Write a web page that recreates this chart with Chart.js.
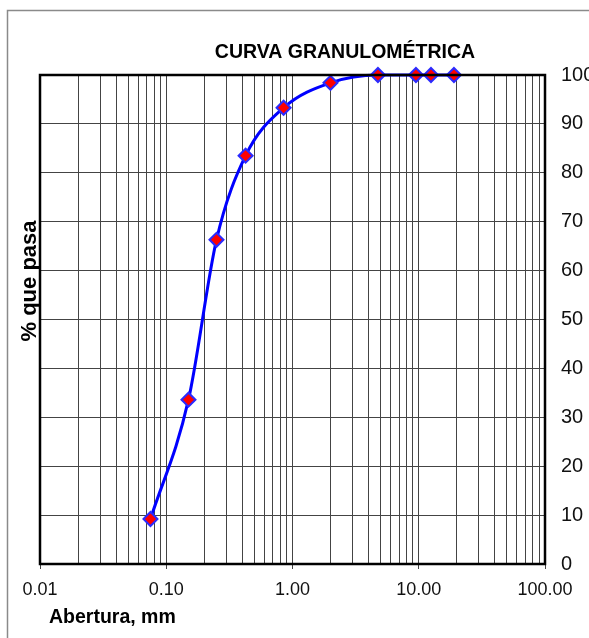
<!DOCTYPE html>
<html lang="es">
<head>
  <meta charset="UTF-8" />
  <title>Curva granulométrica</title>
  <script src="https://cdn.jsdelivr.net/npm/chart.js"></script>
  <style>
    html, body { margin: 0; padding: 0; background: #fff; overflow: hidden; }
    #wrap { position: relative; width: 589px; height: 638px; }
  </style>
</head>
<body>
  <div id="wrap"><canvas id="chart" width="589" height="638"></canvas></div>

  <script>
    // sieve openings (mm) and % passing
    const sieveSizes = [0.075, 0.15, 0.25, 0.425, 0.85, 2.0, 4.75, 9.5, 12.5, 19.0];
    const percentPassing = [9.2, 33.6, 66.3, 83.5, 93.3, 98.4, 100, 100, 100, 100];

    // log grid lines: 1..9 x each decade from 0.01 to 100
    const xGridValues = [];
    [0.01, 0.1, 1, 10].forEach(d => {
      for (let i = 1; i <= 9; i++) xGridValues.push(+(d * i).toPrecision(3));
    });
    xGridValues.push(100);
    const xLabelValues = [0.01, 0.1, 1, 10, 100];

    const chartTitle = 'CURVA GRANULOMÉTRICA';
    const xTitle = 'Abertura, mm';
    const yTitle = '% que pasa';

    const boldFont = '"Liberation Sans Narrow", "Liberation Sans", Arial, sans-serif';

    const isDecade = v => xLabelValues.some(d => Math.abs(d - v) / d < 1e-6);

    const decorations = {
      id: 'decorations',
      beforeDraw(chart) {
        const ctx = chart.ctx;
        ctx.save();
        ctx.strokeStyle = '#8a8a8a';
        ctx.lineWidth = 1.5;
        ctx.strokeRect(7.5, 10.5, 700, 700);
        ctx.restore();
      },
      afterDraw(chart) {
        const ctx = chart.ctx;
        const a = chart.chartArea;
        ctx.save();
        ctx.strokeStyle = '#000';
        ctx.lineWidth = 2.5;
        ctx.strokeRect(a.left, a.top, a.right - a.left, a.bottom - a.top);

        ctx.fillStyle = '#000';
        ctx.font = 'bold 19.5px ' + boldFont;
        ctx.textAlign = 'center';
        ctx.textBaseline = 'middle';
        ctx.fillText(chartTitle, 345, 53);

        ctx.textAlign = 'left';
        ctx.font = 'bold 19.5px ' + boldFont;
        ctx.fillText(xTitle, 49, 618);

        ctx.translate(30, 281);
        ctx.rotate(-Math.PI / 2);
        ctx.textAlign = 'center';
        ctx.font = 'bold 22px ' + boldFont;
        ctx.fillText(yTitle, 0, 0);
        ctx.restore();
      }
    };

    new Chart(document.getElementById('chart'), {
      type: 'line',
      data: {
        datasets: [{
          data: sieveSizes.map((x, i) => ({ x: x, y: percentPassing[i] })),
          borderColor: '#0000ff',
          borderWidth: 3,
          cubicInterpolationMode: 'monotone',
          pointStyle: 'rectRot',
          pointRadius: 7,
          pointBackgroundColor: '#ff0000',
          pointBorderColor: '#2a2aff',
          pointBorderWidth: 2,
          clip: false
        }]
      },
      plugins: [decorations],
      options: {
        responsive: false,
        animation: false,
        layout: { padding: { left: 40, top: 75, right: 0, bottom: 0 } },
        plugins: {
          legend: { display: false },
          tooltip: { enabled: false }
        },
        scales: {
          x: {
            type: 'logarithmic',
            min: 0.01,
            max: 100,
            afterBuildTicks: scale => {
              scale.ticks = xGridValues.map(v => ({ value: v }));
            },
            afterFit: scale => { scale.height = 74; },
            grid: {
              color: '#444',
              lineWidth: 1,
              tickLength: 5,
              tickColor: ctx => isDecade(ctx.tick.value) ? '#444' : 'rgba(0,0,0,0)'
            },
            border: { display: false },
            ticks: {
              autoSkip: false,
              maxRotation: 0,
              padding: 10,
              color: '#111',
              font: { family: '"Liberation Sans", Arial, sans-serif', size: 18 },
              callback: v => isDecade(v) ? v.toFixed(2) : ''
            }
          },
          y: {
            position: 'right',
            min: 0,
            max: 100,
            afterFit: scale => { scale.width = 44; },
            grid: { color: '#444', lineWidth: 1, drawTicks: false },
            border: { display: false },
            ticks: {
              stepSize: 5,
              padding: 16,
              color: '#111',
              font: { family: '"Liberation Sans", Arial, sans-serif', size: 20 },
              callback: v => v % 10 === 0 ? v : ''
            }
          }
        }
      }
    });
  </script>
</body>
</html>
